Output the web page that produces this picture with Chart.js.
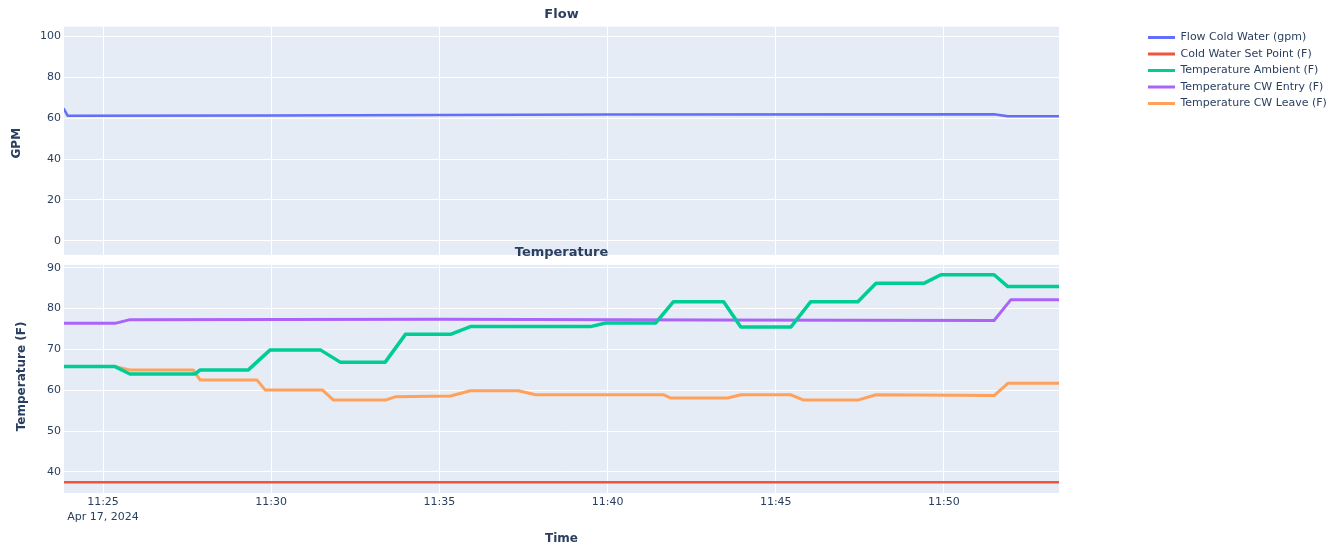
<!DOCTYPE html>
<html>
<head>
<meta charset="utf-8">
<script src="https://cdn.jsdelivr.net/npm/chart.js@4.4.1/dist/chart.umd.min.js"></script>
<style>
  html, body { margin: 0; padding: 0; background: #ffffff; }
  canvas { display: block; }
</style>
</head>
<body>
<canvas id="chart" width="1339" height="546"></canvas>
<script>
// Time axis: minutes after 11:00 on Apr 17, 2024
const hourLabel = 11;
const dateLabel = 'Apr 17, 2024';
const timeMin = 23.84;
const timeMax = 53.42;

// Flow subplot
const flowTimes  = [23.84, 23.95, 30.0, 40.0, 51.49, 51.90, 53.42];
const flowValues = [64.5, 61.2, 61.4, 61.8, 62.0, 61.0, 61.0];

// Temperature subplot
const setPointTimes  = [23.84, 53.42];
const setPointValues = [37.5, 37.5];

const ambientTimes  = [23.84, 25.36, 25.80, 27.74, 27.89, 29.32, 29.97, 31.46, 32.05, 33.39, 33.99, 35.33, 35.92, 39.49, 39.94, 41.43, 41.96, 43.45, 43.96, 45.45, 46.04, 47.44, 47.98, 49.40, 49.91, 51.49, 51.90, 53.42];
const ambientValues = [65.8, 65.8, 64.0, 64.0, 65.0, 65.0, 69.9, 69.9, 66.9, 66.9, 73.7, 73.7, 75.6, 75.6, 76.5, 76.5, 81.7, 81.7, 75.5, 75.5, 81.7, 81.7, 86.2, 86.2, 88.3, 88.3, 85.4, 85.4];

const entryTimes  = [23.84, 25.36, 25.80, 35.0, 43.0, 51.49, 51.99, 53.42];
const entryValues = [76.4, 76.4, 77.3, 77.4, 77.2, 77.1, 82.2, 82.2];

const leaveTimes  = [23.84, 25.36, 25.80, 27.68, 27.89, 29.58, 29.82, 31.52, 31.85, 33.39, 33.69, 35.33, 35.92, 37.35, 37.86, 41.67, 41.88, 43.57, 43.96, 45.45, 45.83, 47.44, 47.98, 51.49, 51.90, 53.42];
const leaveValues = [65.8, 65.8, 65.0, 65.0, 62.5, 62.5, 60.1, 60.1, 57.6, 57.6, 58.4, 58.6, 59.9, 59.9, 58.9, 58.9, 58.1, 58.1, 58.9, 58.9, 57.6, 57.6, 58.9, 58.7, 61.7, 61.7];

const seriesNames = ['Flow Cold Water (gpm)', 'Cold Water Set Point (F)', 'Temperature Ambient (F)', 'Temperature CW Entry (F)', 'Temperature CW Leave (F)'];
const seriesColors = ['#636efa', '#EF553B', '#00cc96', '#ab63fa', '#FFA15A'];

const pts = (ts, vs) => ts.map((t, i) => ({ x: t, y: vs[i] }));

const textColor = '#2a3f5f';
Chart.defaults.font.family = '"DejaVu Sans", Arial, sans-serif';
Chart.defaults.color = textColor;

const panelsPlugin = {
  id: 'panels',
  beforeDraw(chart) {
    const { ctx, chartArea: a } = chart;
    const f = chart.scales.yFlow, t = chart.scales.yTemp;
    ctx.save();
    ctx.fillStyle = '#ffffff';
    ctx.fillRect(0, 0, chart.width, chart.height);
    ctx.fillStyle = '#e5ecf6';
    ctx.fillRect(a.left, f.top, a.width, f.bottom - f.top);
    ctx.fillRect(a.left, t.top, a.width, t.bottom - t.top);
    ctx.restore();
  },
  beforeDatasetsDraw(chart) {
    const { ctx, chartArea: a } = chart;
    const mid = chart.scales.yTemp.top;
    ctx.save();
    ctx.fillStyle = '#ffffff';
    ctx.fillRect(a.left - 1, mid - 5, a.width + 2, 10);
    ctx.restore();
  },
  afterDraw(chart) {
    const { ctx, chartArea: a } = chart;
    ctx.save();
    ctx.font = 'bold 13px "DejaVu Sans", Arial, sans-serif';
    ctx.fillStyle = textColor;
    ctx.textAlign = 'center';
    ctx.textBaseline = 'middle';
    ctx.fillText('Temperature', (a.left + a.right) / 2, chart.scales.yTemp.top - 7);
    ctx.restore();
  }
};

const lineDs = (i, data, yAxisID, width) => ({
  label: seriesNames[i],
  data,
  yAxisID,
  borderColor: seriesColors[i],
  backgroundColor: seriesColors[i],
  borderWidth: width,
  pointRadius: 0,
  tension: 0,
  borderJoinStyle: 'round',
  borderCapStyle: 'round'
});

const gridWhite = { color: '#ffffff', lineWidth: 1, drawTicks: false };

const chart = new Chart(document.getElementById('chart'), {
  type: 'line',
  data: {
    datasets: [
      lineDs(0, pts(flowTimes, flowValues), 'yFlow', 2.5),
      lineDs(1, pts(setPointTimes, setPointValues), 'yTemp', 2.5),
      lineDs(2, pts(ambientTimes, ambientValues), 'yTemp', 3.5),
      lineDs(3, pts(entryTimes, entryValues), 'yTemp', 3),
      lineDs(4, pts(leaveTimes, leaveValues), 'yTemp', 3)
    ]
  },
  options: {
    responsive: false,
    animation: false,
    devicePixelRatio: 1,
    layout: { padding: { left: 5, right: 0, top: 0, bottom: 0 } },
    plugins: {
      title: {
        display: true,
        text: 'Flow',
        fullSize: false,
        color: textColor,
        font: { size: 13, weight: 'bold' },
        padding: { top: 7, bottom: 4 }
      },
      legend: {
        display: true,
        position: 'right',
        align: 'start',
        fullSize: false,
        maxWidth: 400,
        labels: {
          boxWidth: 27,
          boxHeight: 3,
          padding: 5.5,
          color: textColor,
          font: { size: 11 },
          generateLabels(ch) {
            return Chart.defaults.plugins.legend.labels.generateLabels(ch).map(l => ({
              ...l, fillStyle: seriesColors[l.datasetIndex], strokeStyle: seriesColors[l.datasetIndex], lineWidth: 0
            }));
          }
        }
      },
      tooltip: { enabled: false }
    },
    scales: {
      x: {
        type: 'linear',
        position: 'bottom',
        min: timeMin,
        max: timeMax,
        grid: gridWhite,
        border: { display: false },
        afterFit(s) { s.height = 53; },
        ticks: {
          stepSize: 5,
          includeBounds: false,
          maxRotation: 0,
          autoSkip: false,
          padding: 2,
          color: textColor,
          font: { size: 11, lineHeight: 1.35 },
          callback(value, index) {
            const label = hourLabel + ':' + String(Math.round(value)).padStart(2, '0');
            return index === 0 ? [label, dateLabel] : label;
          }
        },
        title: {
          display: true,
          text: 'Time',
          color: textColor,
          font: { size: 12, weight: 'bold' },
          padding: { top: 7, bottom: 0 }
        }
      },
      yFlow: {
        type: 'linear',
        position: 'left',
        stack: 'panels',
        stackWeight: 1,
        weight: 2,
        min: -9.3,
        max: 104.9,
        grid: gridWhite,
        border: { display: false },
        afterFit(s) { s.width = 59; },
        ticks: { stepSize: 20, includeBounds: false, padding: 3, color: textColor, font: { size: 11 } },
        title: { display: true, text: 'GPM', color: textColor, font: { size: 12, weight: 'bold' }, padding: { top: 5, bottom: 0 } }
      },
      yTemp: {
        type: 'linear',
        position: 'left',
        stack: 'panels',
        stackWeight: 1,
        weight: 1,
        min: 34.85,
        max: 91.96,
        grid: gridWhite,
        border: { display: false },
        afterFit(s) { s.width = 59; },
        ticks: { stepSize: 10, includeBounds: false, padding: 3, color: textColor, font: { size: 11 } },
        title: { display: true, text: 'Temperature (F)', color: textColor, font: { size: 12, weight: 'bold' }, padding: { top: 10, bottom: 0 } }
      },
      spacer: {
        type: 'linear',
        position: 'right',
        display: true,
        grid: { display: false, drawTicks: false },
        border: { display: false },
        ticks: { display: false },
        afterFit(s) { s.width = 83.5; }
      }
    }
  },
  plugins: [panelsPlugin]
});

// Place the legend so its first swatch starts at the reference position
const lw = chart.legend ? chart.legend.width : 200;
chart.options.layout.padding.right = Math.max(0, 1339 - 1142.5 - lw);
chart.update();
</script>
</body>
</html>
